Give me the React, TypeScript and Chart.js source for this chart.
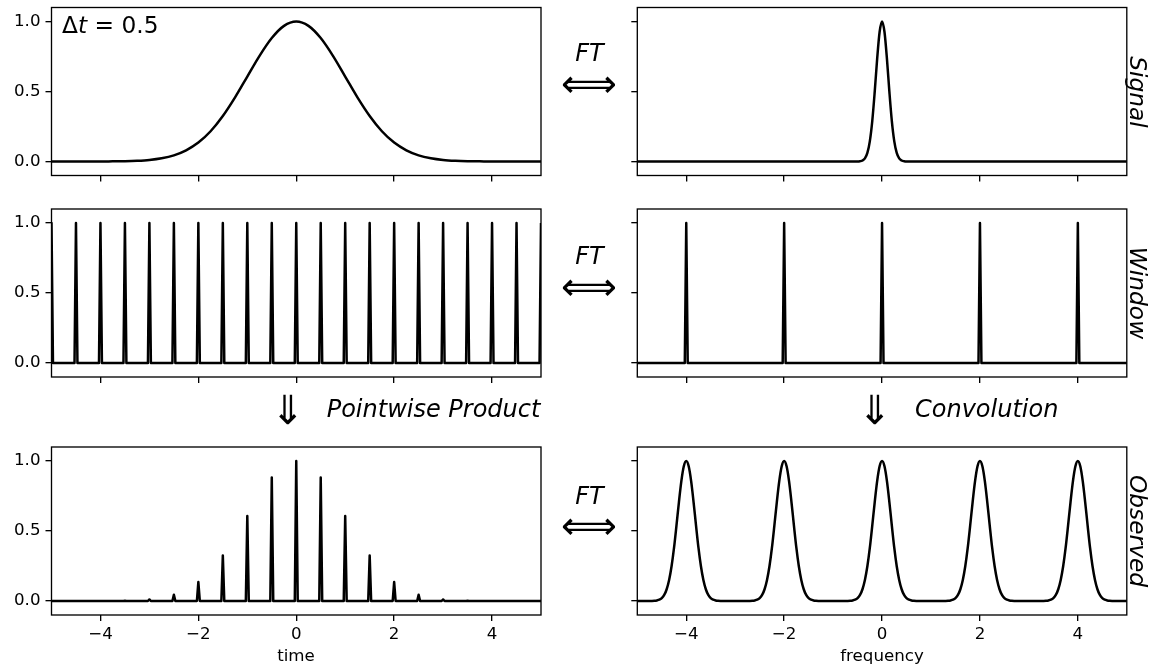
import React, { useEffect, useRef } from "react";
import { Chart, registerables } from "chart.js";

Chart.register(...registerables);

// ---------- data ----------
const xTickValues = [-4, -2, 0, 2, 4];
const yTickValues = [0, 0.5, 1.0];
const yTickLabels = ["0.0", "0.5", "1.0"];

// Signal (time domain), sampled every 0.25
const signalTime = [-5, -4.75, -4.5, -4.25, -4, -3.75, -3.5, -3.25, -3, -2.75, -2.5, -2.25, -2, -1.75, -1.5, -1.25, -1, -0.75, -0.5, -0.25, 0, 0.25, 0.5, 0.75, 1, 1.25, 1.5, 1.75, 2, 2.25, 2.5, 2.75, 3, 3.25, 3.5, 3.75, 4, 4.25, 4.5, 4.75, 5];
const signalValues = [0, 0, 0, 0, 0, 0.001, 0.002, 0.005, 0.011, 0.023, 0.044, 0.08, 0.135, 0.216, 0.325, 0.458, 0.607, 0.755, 0.882, 0.969, 1.0, 0.969, 0.882, 0.755, 0.607, 0.458, 0.325, 0.216, 0.135, 0.08, 0.044, 0.023, 0.011, 0.005, 0.002, 0.001, 0, 0, 0, 0, 0];

// Window (sampling comb) and observed spike heights
const combTimes = [-5, -4.5, -4, -3.5, -3, -2.5, -2, -1.5, -1, -0.5, 0, 0.5, 1, 1.5, 2, 2.5, 3, 3.5, 4, 4.5, 5];
const windowHeights = [1, 1, 1, 1, 1, 1, 1, 1, 1, 1, 1, 1, 1, 1, 1, 1, 1, 1, 1, 1, 1];
const observedHeights = [0, 0, 0, 0.002, 0.011, 0.044, 0.135, 0.325, 0.607, 0.882, 1.0, 0.882, 0.607, 0.325, 0.135, 0.044, 0.011, 0.002, 0, 0, 0];

// Spike profile (offset from centre, fraction of height)
const spikeOffsets = [-0.03, 0, 0.03];
const spikeShape = [0, 1, 0];

// Frequency domain
const combFreqs = [-4, -2, 0, 2, 4];
const combFreqHeights = [1, 1, 1, 1, 1];
const signalFTCentres = [0];
const observedFTCentres = [-4, -2, 0, 2, 4];
const peakOffsets = [-0.7, -0.65, -0.6, -0.55, -0.5, -0.45, -0.4, -0.35, -0.3, -0.25, -0.2, -0.15, -0.1, -0.05, 0, 0.05, 0.1, 0.15, 0.2, 0.25, 0.3, 0.35, 0.4, 0.45, 0.5, 0.55, 0.6, 0.65, 0.7];
const signalFTShape = [0, 0, 0, 0, 0, 0.002, 0.007, 0.022, 0.061, 0.144, 0.289, 0.497, 0.733, 0.925, 1, 0.925, 0.733, 0.497, 0.289, 0.144, 0.061, 0.022, 0.007, 0.002, 0, 0, 0, 0, 0];
const observedFTShape = [0, 0.001, 0.004, 0.009, 0.021, 0.043, 0.084, 0.15, 0.248, 0.379, 0.538, 0.705, 0.856, 0.962, 1, 0.962, 0.856, 0.705, 0.538, 0.379, 0.248, 0.15, 0.084, 0.043, 0.021, 0.009, 0.004, 0.001, 0];

type Pt = { x: number; y: number };

function buildCurve(xs: number[], ys: number[]): Pt[] {
  return xs.map((x, i) => ({ x, y: ys[i] }));
}
function buildProfiles(centres: number[], heights: number[], offs: number[], shape: number[]): Pt[] {
  const pts: Pt[] = [{ x: -5.6, y: 0 }];
  centres.forEach((c, i) => {
    offs.forEach((o, j) => pts.push({ x: c + o, y: heights[i] * shape[j] }));
  });
  pts.push({ x: 5.6, y: 0 });
  return pts;
}

const FONT = "'DejaVu Sans', sans-serif";
const PLOT_W = 489.5;
const PLOT_H = 168;
const TICK_FONT = 16.67;

const fmtX = (v: number) => (v < 0 ? "\u2212" + Math.abs(v) : String(v));

const framePlugin = {
  id: "frame",
  afterDraw(chart: any) {
    const { ctx, chartArea } = chart;
    ctx.save();
    ctx.strokeStyle = "#000";
    ctx.lineWidth = 1.33;
    ctx.strokeRect(chartArea.left, chartArea.top, chartArea.right - chartArea.left, chartArea.bottom - chartArea.top);
    ctx.restore();
  },
};

type PanelProps = {
  plotLeft: number;
  plotTop: number;
  canvasLeft: number;
  points: Pt[];
  smooth: boolean;
  yLabels: boolean;
  xLabels: boolean;
};

function Panel(p: PanelProps) {
  const ref = useRef<HTMLCanvasElement | null>(null);
  const canvasTop = Math.floor(p.plotTop) - 22;
  const padTop = p.plotTop - canvasTop;
  const axisW = p.plotLeft - p.canvasLeft;
  const width = 562;
  const padRight = width - axisW - PLOT_W;
  const height = Math.ceil(padTop + PLOT_H + 50);
  const xAxisH = height - padTop - PLOT_H;

  useEffect(() => {
    if (!ref.current) return;
    const chart = new Chart(ref.current, {
      type: "line",
      data: {
        datasets: [
          {
            data: p.points,
            borderColor: "#000",
            borderWidth: 2.5,
            pointRadius: 0,
            fill: false,
            tension: 0,
            cubicInterpolationMode: p.smooth ? "monotone" : "default",
            borderJoinStyle: "round",
            clip: 0,
          } as any,
        ],
      },
      options: {
        animation: false,
        responsive: false,
        maintainAspectRatio: false,
        events: [],
        layout: { padding: { top: padTop, right: padRight, left: 0, bottom: 0 } },
        plugins: { legend: { display: false }, tooltip: { enabled: false } },
        scales: {
          x: {
            type: "linear",
            min: -5,
            max: 5,
            afterBuildTicks: (s: any) => {
              s.ticks = xTickValues.map((v) => ({ value: v }));
            },
            afterFit: (s: any) => {
              s.height = xAxisH;
            },
            ticks: {
              callback: (v: any) => (p.xLabels ? fmtX(Number(v)) : ""),
              font: { family: FONT, size: TICK_FONT },
              color: "#000",
              padding: 4,
              maxRotation: 0,
              autoSkip: false,
            },
            grid: { drawOnChartArea: false, drawTicks: true, tickLength: 6, color: "#000", lineWidth: 1.33 },
            border: { display: false },
          },
          y: {
            type: "linear",
            min: -0.1,
            max: 1.1,
            afterBuildTicks: (s: any) => {
              s.ticks = yTickValues.map((v) => ({ value: v }));
            },
            afterFit: (s: any) => {
              s.width = axisW;
            },
            ticks: {
              callback: (_v: any, i: number) => (p.yLabels ? yTickLabels[i] : ""),
              font: { family: FONT, size: TICK_FONT },
              color: "#000",
              padding: 5,
            },
            grid: { drawOnChartArea: false, drawTicks: true, tickLength: 6, color: "#000", lineWidth: 1.33 },
            border: { display: false },
          },
        },
      } as any,
      plugins: [framePlugin],
    });
    return () => chart.destroy();
  }, []);

  return (
    <canvas
      ref={ref}
      width={width}
      height={height}
      style={{ position: "absolute", left: p.canvasLeft, top: canvasTop, width, height }}
    />
  );
}

function Txt(props: { x: number; base: number; size: number; italic?: boolean; center?: boolean; children: any }) {
  const { x, base, size, italic, center, children } = props;
  return (
    <div
      style={{
        position: "absolute",
        left: x,
        top: base - 0.846 * size,
        fontSize: size,
        lineHeight: `${size}px`,
        fontStyle: italic ? "italic" : "normal",
        whiteSpace: "pre",
        transform: center ? "translateX(-50%)" : undefined,
        color: "#000",
      }}
    >
      {children}
    </div>
  );
}

function VTxt(props: { cx: number; cy: number; size: number; children: any }) {
  const { cx, cy, size, children } = props;
  return (
    <div
      style={{
        position: "absolute",
        left: cx,
        top: cy,
        fontSize: size,
        lineHeight: `${size}px`,
        fontStyle: "italic",
        whiteSpace: "pre",
        transform: "translate(-50%, -50%) rotate(90deg)",
        color: "#000",
      }}
    >
      {children}
    </div>
  );
}

const LEFT_X = 51.5;
const RIGHT_X = 637.3;
const ROW_TOPS = [7.5, 209, 447];

export default function App() {
  const signal = buildCurve(signalTime, signalValues);
  const windowPts = buildProfiles(combTimes, windowHeights, spikeOffsets, spikeShape);
  const observedPts = buildProfiles(combTimes, observedHeights, spikeOffsets, spikeShape);
  const signalFT = buildProfiles(signalFTCentres, [1], peakOffsets, signalFTShape);
  const windowFT = buildProfiles(combFreqs, combFreqHeights, spikeOffsets, spikeShape);
  const observedFT = buildProfiles(observedFTCentres, [1, 1, 1, 1, 1], peakOffsets, observedFTShape);

  const big = 24;
  const arrowSize = 39;
  const downSize = 40;
  return (
    <div
      style={{
        position: "absolute",
        left: 0,
        top: 0,
        width: 1154,
        height: 670,
        background: "#fff",
        overflow: "hidden",
        fontFamily: FONT,
      }}
    >
      <Panel plotLeft={LEFT_X} plotTop={ROW_TOPS[0]} canvasLeft={0} points={signal} smooth={true} yLabels={true} xLabels={false} />
      <Panel plotLeft={RIGHT_X} plotTop={ROW_TOPS[0]} canvasLeft={590} points={signalFT} smooth={true} yLabels={false} xLabels={false} />
      <Panel plotLeft={LEFT_X} plotTop={ROW_TOPS[1]} canvasLeft={0} points={windowPts} smooth={false} yLabels={true} xLabels={false} />
      <Panel plotLeft={RIGHT_X} plotTop={ROW_TOPS[1]} canvasLeft={590} points={windowFT} smooth={false} yLabels={false} xLabels={false} />
      <Panel plotLeft={LEFT_X} plotTop={ROW_TOPS[2]} canvasLeft={0} points={observedPts} smooth={false} yLabels={true} xLabels={true} />
      <Panel plotLeft={RIGHT_X} plotTop={ROW_TOPS[2]} canvasLeft={590} points={observedFT} smooth={true} yLabels={false} xLabels={true} />

      <Txt x={62} base={33} size={23.3}>
        Δ<i>t</i> = 0.5
      </Txt>

      <Txt x={589.5} base={61.7} size={big} italic center>FT</Txt>
      <Txt x={589} base={85 + 0.3 * arrowSize} size={arrowSize} center>⟺</Txt>
      <Txt x={589.5} base={264} size={big} italic center>FT</Txt>
      <Txt x={589} base={288.3 + 0.3 * arrowSize} size={arrowSize} center>⟺</Txt>
      <Txt x={589.5} base={504} size={big} italic center>FT</Txt>
      <Txt x={589} base={527.7 + 0.3 * arrowSize} size={arrowSize} center>⟺</Txt>

      <Txt x={287.5} base={410.5 + 0.33 * downSize} size={downSize} center>⇓</Txt>
      <Txt x={326.7} base={417} size={big} italic>Pointwise Product</Txt>
      <Txt x={874.5} base={410.5 + 0.33 * downSize} size={downSize} center>⇓</Txt>
      <Txt x={915} base={417} size={big} italic>Convolution</Txt>

      <VTxt cx={1138} cy={91.5} size={23.3}>Signal</VTxt>
      <VTxt cx={1138} cy={292.5} size={23.3}>Window</VTxt>
      <VTxt cx={1138} cy={531} size={23.3}>Observed</VTxt>

      <Txt x={296} base={662} size={TICK_FONT} center>time</Txt>
      <Txt x={882} base={662} size={TICK_FONT} center>frequency</Txt>
    </div>
  );
}
